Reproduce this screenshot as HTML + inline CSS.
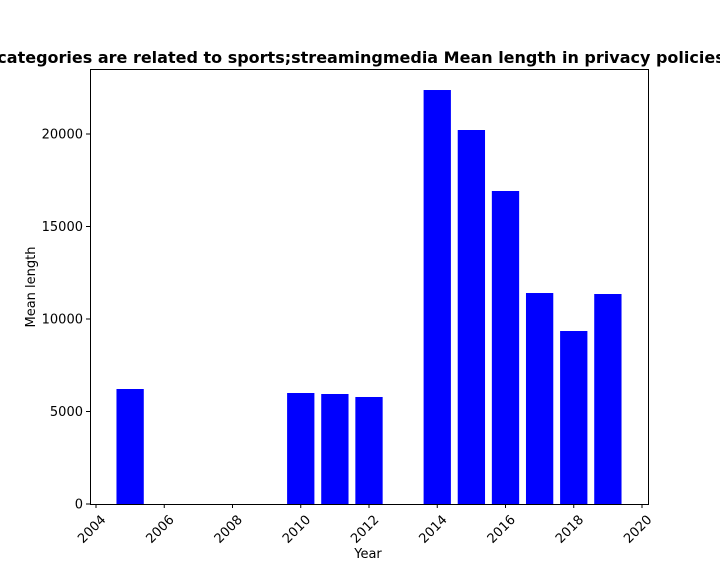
<!DOCTYPE html>
<html><head><meta charset="utf-8"><style>
body{margin:0;background:#fff;font-family:"Liberation Sans","DejaVu Sans",sans-serif;overflow:hidden;}
svg text{font-family:"DejaVu Sans","Liberation Sans",sans-serif;}
</style></head><body>
<svg id="c" width="720" height="576">
<text x="361" y="63" text-anchor="middle" font-size="16" font-weight="bold">categories are related to sports;streamingmedia Mean length in privacy policies</text>
<g id="bars"></g>
<rect x="90.5" y="69.5" width="558" height="435" fill="none" stroke="#000" stroke-width="1"/>
<g id="xt"></g>
<g id="yt"></g>
<text x="368" y="558" text-anchor="middle" font-size="13">Year</text>
<text transform="translate(35,287) rotate(-90)" text-anchor="middle" font-size="13">Mean length</text>
</svg>
<script>
const years=[2005,2010,2011,2012,2014,2015,2016,2017,2018,2019];
const meanLengths=[6216,6000,5946,5784,22378,20216,16919,11405,9351,11351];
const xTicks=[2004,2006,2008,2010,2012,2014,2016,2018,2020];
const yTicks=[0,5000,10000,15000,20000];
const NS="http://www.w3.org/2000/svg";
const x=v=>96+(v-2004)*(546/16);
const y=v=>504-v*0.0185;
const bars=document.getElementById('bars');
years.forEach((yr,i)=>{
 const r=document.createElementNS(NS,'rect');
 const w=0.8*546/16;
 r.setAttribute('x',x(yr)-w/2);r.setAttribute('width',w);
 r.setAttribute('y',y(meanLengths[i]));r.setAttribute('height',504-y(meanLengths[i]));
 r.setAttribute('fill','#0000ff');
 
 
 bars.appendChild(r);
});
const xt=document.getElementById('xt');
xTicks.forEach(t=>{
 const px=x(t);
 const l=document.createElementNS(NS,'line');
 l.setAttribute('x1',px);l.setAttribute('x2',px);l.setAttribute('y1',504);l.setAttribute('y2',508);l.setAttribute('stroke','#000');
 
 
 xt.appendChild(l);
 const tx=document.createElementNS(NS,'text');
 tx.setAttribute('transform',`translate(${px+4},${514}) rotate(-45)`);
 tx.setAttribute('text-anchor','end');tx.setAttribute('font-size','13');tx.setAttribute('dy','0.7em');
 tx.textContent=t;
 
 
 xt.appendChild(tx);
});
const yt=document.getElementById('yt');
yTicks.forEach(t=>{
 const py=y(t);
 const l=document.createElementNS(NS,'line');
 l.setAttribute('x1',86);l.setAttribute('x2',90);l.setAttribute('y1',py);l.setAttribute('y2',py);l.setAttribute('stroke','#000');
 
 
 yt.appendChild(l);
 const tx=document.createElementNS(NS,'text');
 tx.setAttribute('x',83);tx.setAttribute('y',py+4.5);tx.setAttribute('text-anchor','end');tx.setAttribute('font-size','13');
 tx.textContent=t;
 
 
 yt.appendChild(tx);
});
</script>
</body></html>
